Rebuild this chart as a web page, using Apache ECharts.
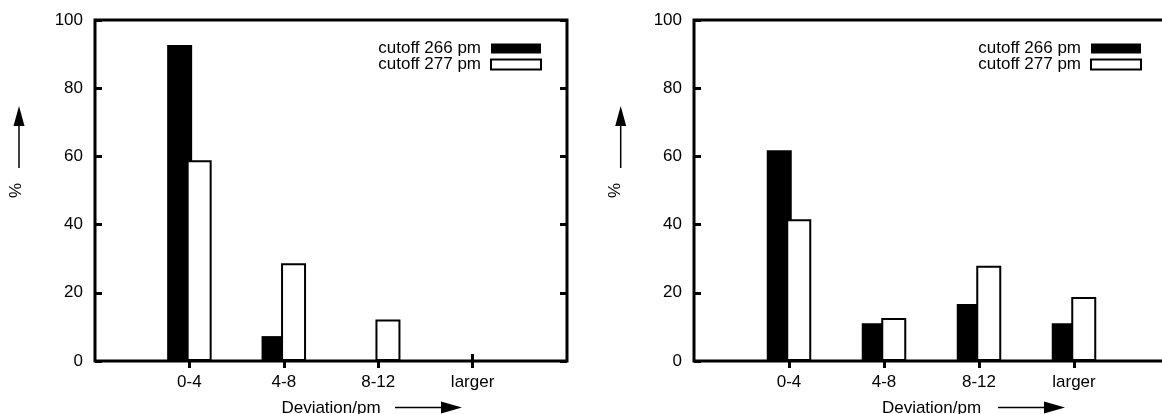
<!DOCTYPE html>
<html>
<head>
<meta charset="utf-8">
<script src="https://cdn.jsdelivr.net/npm/echarts@6/dist/echarts.min.js"></script>
<style>
html, body { margin: 0; padding: 0; background: #fff; }
#chart { width: 1162px; height: 414px; }
</style>
</head>
<body>
<div id="chart"></div>
<script>
const categories = ['0-4', '4-8', '8-12', 'larger'];
const seriesNames = ['cutoff 266 pm', 'cutoff 277 pm'];
const yMin = 0, yMax = 100, yStep = 20;

// left panel
const leftCut266 = [92.7, 7.3, 0, 0];
const leftCut277 = [58.9, 28.7, 12.2, 0];
// right panel
const rightCut266 = [61.8, 11.1, 16.7, 11.1];
const rightCut277 = [41.6, 12.6, 27.9, 18.8];

const FONT = 'Liberation Sans, Arial, Helvetica, sans-serif';
const textStyle = { color: '#000', fontFamily: FONT, fontSize: 17 };

// empty slot at each end so the categories sit one step in from the frame
const axisCats = [''].concat(categories, ['']);
const pad = arr => ['-'].concat(arr, ['-']);
const innerTick = idx => idx > 0 && idx < axisCats.length - 1;
const tickStyle = { color: '#000', width: 3 };

function xAxes(gi) {
    return [{
        gridIndex: gi, type: 'category', data: axisCats, boundaryGap: false,
        name: 'Deviation/pm', nameLocation: 'middle', nameGap: 39,
        nameTextStyle: textStyle,
        axisLine: { show: false },
        axisTick: { inside: true, length: 7, interval: innerTick, lineStyle: tickStyle },
        axisLabel: Object.assign({ margin: 13, interval: 0 }, textStyle),
        splitLine: { show: false }
    }, {
        gridIndex: gi, type: 'category', data: axisCats, boundaryGap: false, position: 'top',
        axisLine: { show: false },
        axisTick: { inside: true, length: 7, interval: innerTick, lineStyle: tickStyle },
        axisLabel: { show: false },
        splitLine: { show: false }
    }];
}

function yAxes(gi) {
    return [{
        gridIndex: gi, type: 'value', min: yMin, max: yMax, interval: yStep,
        name: '%', nameLocation: 'middle', nameGap: 70, nameRotate: 90,
        nameTextStyle: textStyle,
        axisLine: { show: false },
        axisTick: { show: true, inside: true, length: 7, lineStyle: tickStyle },
        axisLabel: Object.assign({ margin: 12 }, textStyle),
        splitLine: { show: false }
    }, {
        gridIndex: gi, type: 'value', min: yMin, max: yMax, interval: yStep, position: 'right',
        axisLine: { show: false },
        axisTick: { show: true, inside: true, length: 7, lineStyle: tickStyle },
        axisLabel: { show: false },
        splitLine: { show: false }
    }];
}

function bars(name, data, axisIdx, filled) {
    return {
        name: name, type: 'bar', data: pad(data),
        xAxisIndex: axisIdx, yAxisIndex: axisIdx,
        barWidth: 25, barGap: '-22%',
        itemStyle: filled
            ? { color: '#000', borderColor: '#000', borderWidth: 0 }
            : { color: '#fff', borderColor: '#000', borderWidth: 2 },
        emphasis: { disabled: true }
    };
}

function legend(right) {
    return {
        data: seriesNames, orient: 'vertical', right: right, top: 40, padding: 0,
        align: 'right', itemWidth: 50, itemHeight: 10, itemGap: -1,
        icon: 'rect', selectedMode: false,
        textStyle: Object.assign({ padding: [0, 5, 0, 0] }, textStyle)
    };
}

// decorative arrows next to the axis names
function arrows(yx, xl) {
    return [
        { type: 'line', shape: { x1: yx, y1: 124, x2: yx, y2: 168 }, style: { stroke: '#000', lineWidth: 1.5 } },
        { type: 'polygon', shape: { points: [[yx, 106], [yx - 5.5, 126], [yx + 5.5, 126]] }, style: { fill: '#000' } },
        { type: 'line', shape: { x1: xl, y1: 407.5, x2: xl + 49, y2: 407.5 }, style: { stroke: '#000', lineWidth: 1.5 } },
        { type: 'polygon', shape: { points: [[xl + 67, 407.5], [xl + 46, 401.5], [xl + 46, 413.5]] }, style: { fill: '#000' } }
    ];
}

const gridBase = { top: 20, height: 341, show: true, borderColor: '#000', borderWidth: 3, outerBoundsMode: 'none', containLabel: false };

const chart = echarts.init(document.getElementById('chart'), null, { renderer: 'canvas' });
chart.setOption({
    animation: false,
    backgroundColor: '#fff',
    grid: [
        Object.assign({ left: 95, width: 472 }, gridBase),
        Object.assign({ left: 694, width: 475 }, gridBase)
    ],
    legend: [legend(620), legend(20)],
    xAxis: xAxes(0).concat(xAxes(1)),
    yAxis: yAxes(0).concat(yAxes(1)),
    series: [
        bars(seriesNames[0], leftCut266, 0, true),
        bars(seriesNames[1], leftCut277, 0, false),
        bars(seriesNames[0], rightCut266, 2, true),
        bars(seriesNames[1], rightCut277, 2, false)
    ],
    graphic: arrows(19, 395).concat(arrows(620.7, 998))
});
</script>
</body>
</html>
